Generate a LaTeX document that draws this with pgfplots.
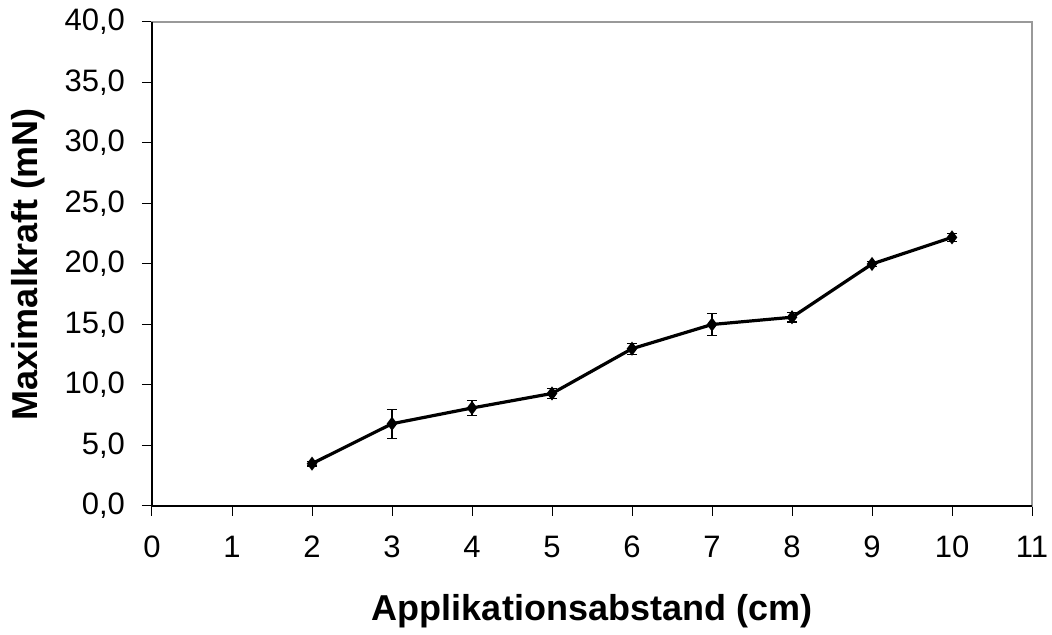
\documentclass[border=0pt]{standalone}
\usepackage{pgfplots}
\pgfplotsset{compat=1.18}
\usepackage{fontspec}
\setmainfont{Liberation Sans}
\begin{document}
\begin{tikzpicture}
\path[use as bounding box] (-76pt,-64.5pt) rectangle (450pt,253pt);
\begin{axis}[
    at={(0,0)}, anchor=south west,
    scale only axis,
    width=440pt,
    height=242pt,
    xmin=0, xmax=11,
    ymin=0, ymax=40,
    xtick={0,1,...,11},
    ytick={0,5,...,40},
    tick pos=left,
    tick align=outside,
    major tick length=5pt,
    tick style={black, line width=0.5pt},
    axis line style={gray!80, line width=0.6pt},
    ticklabel style={font=\fontsize{15.5}{18}\selectfont},
    yticklabel style={xshift=-5pt, /pgf/number format/.cd, use comma, fixed, fixed zerofill, precision=1},
    xticklabel style={yshift=-6.5pt},
    /pgf/number format/assume math mode=true,
    xlabel={\textbf{Applikationsabstand (cm)}},
    ylabel={\textbf{Maximalkraft (mN)}},
    every axis x label/.style={at={([yshift=-57pt]axis description cs:0.5,0)}, anchor=base, font=\fontsize{18}{21}\selectfont},
    every axis y label/.style={at={([xshift=-62pt]axis description cs:0,0.5)}, rotate=90, anchor=center, font=\fontsize{18}{21}\selectfont},
    clip=false,
]
\addplot[black, line width=1.6pt, mark=diamond*, mark size=2.2pt,
    error bars/.cd, y dir=both, y explicit,
    error bar style={line width=0.6pt, black},
    error mark options={rotate=90, mark size=2.6pt, line width=0.6pt, black}]
coordinates {
    (2, 3.5)  +- (0, 0.2)
    (3, 6.8)  +- (0, 1.2)
    (4, 8.1)  +- (0, 0.6)
    (5, 9.3)  +- (0, 0.4)
    (6, 13.0) +- (0, 0.45)
    (7, 15.0) +- (0, 0.9)
    (8, 15.6) +- (0, 0.4)
    (9, 20.0) +- (0, 0.2)
    (10, 22.2) +- (0, 0.35)
};
\draw[black, line width=0.6pt] (rel axis cs:0,1) -- (rel axis cs:0,0) -- (rel axis cs:1,0);
\end{axis}
\end{tikzpicture}
\end{document}
